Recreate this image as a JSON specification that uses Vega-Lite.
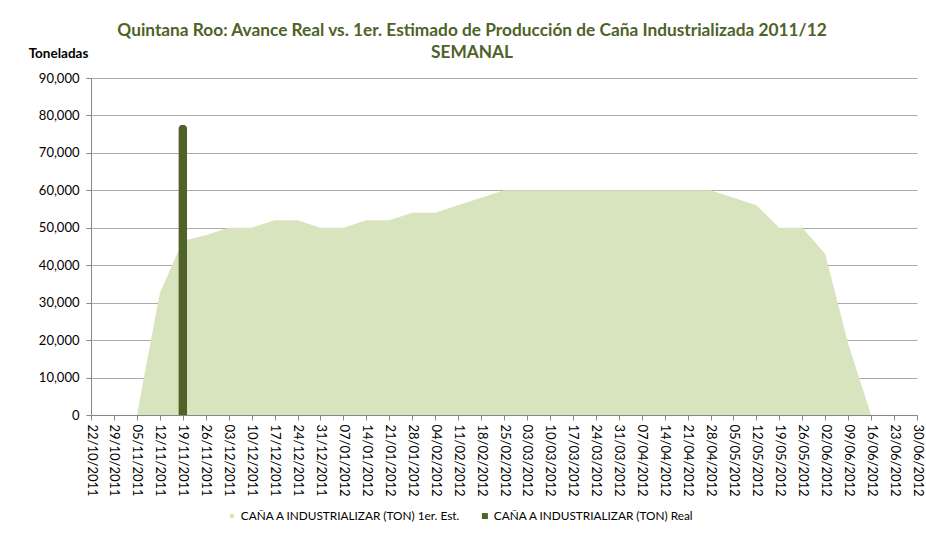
{
  "$schema": "https://vega.github.io/schema/vega-lite/v6.json",
  "width": 826,
  "height": 337,
  "autosize": {"type": "none"},
  "padding": {"left": 91, "top": 78, "right": 9, "bottom": 121},
  "background": "white",
  "title": {
    "text": ["Quintana Roo: Avance Real vs. 1er. Estimado de Producción de Caña Industrializada 2011/12", "SEMANAL"],
    "font": "Lato",
    "fontSize": 17.3,
    "fontWeight": "bold",
    "color": "#4F6228",
    "anchor": "middle",
    "frame": "group",
    "dx": -32,
    "offset": -15,
    "lineHeight": 22
  },
  "data": {
    "values": [
      {"fecha": "22/10/2011", "est": null, "real": null},
      {"fecha": "29/10/2011", "est": null, "real": null},
      {"fecha": "05/11/2011", "est": 0, "real": null},
      {"fecha": "12/11/2011", "est": 32500, "real": null},
      {"fecha": "19/11/2011", "est": 46500, "real": 77500},
      {"fecha": "26/11/2011", "est": 48000, "real": null},
      {"fecha": "03/12/2011", "est": 50000, "real": null},
      {"fecha": "10/12/2011", "est": 50000, "real": null},
      {"fecha": "17/12/2011", "est": 52000, "real": null},
      {"fecha": "24/12/2011", "est": 52000, "real": null},
      {"fecha": "31/12/2011", "est": 50000, "real": null},
      {"fecha": "07/01/2012", "est": 50000, "real": null},
      {"fecha": "14/01/2012", "est": 52000, "real": null},
      {"fecha": "21/01/2012", "est": 52000, "real": null},
      {"fecha": "28/01/2012", "est": 54000, "real": null},
      {"fecha": "04/02/2012", "est": 54000, "real": null},
      {"fecha": "11/02/2012", "est": 56000, "real": null},
      {"fecha": "18/02/2012", "est": 58000, "real": null},
      {"fecha": "25/02/2012", "est": 60000, "real": null},
      {"fecha": "03/03/2012", "est": 60000, "real": null},
      {"fecha": "10/03/2012", "est": 60000, "real": null},
      {"fecha": "17/03/2012", "est": 60000, "real": null},
      {"fecha": "24/03/2012", "est": 60000, "real": null},
      {"fecha": "31/03/2012", "est": 60000, "real": null},
      {"fecha": "07/04/2012", "est": 60000, "real": null},
      {"fecha": "14/04/2012", "est": 60000, "real": null},
      {"fecha": "21/04/2012", "est": 60000, "real": null},
      {"fecha": "28/04/2012", "est": 60000, "real": null},
      {"fecha": "05/05/2012", "est": 58000, "real": null},
      {"fecha": "12/05/2012", "est": 56000, "real": null},
      {"fecha": "19/05/2012", "est": 50000, "real": null},
      {"fecha": "26/05/2012", "est": 50000, "real": null},
      {"fecha": "02/06/2012", "est": 43000, "real": null},
      {"fecha": "09/06/2012", "est": 19000, "real": null},
      {"fecha": "16/06/2012", "est": 0, "real": null},
      {"fecha": "23/06/2012", "est": null, "real": null},
      {"fecha": "30/06/2012", "est": null, "real": null}
    ]
  },
  "encoding": {
    "x": {
      "field": "fecha",
      "type": "ordinal",
      "sort": null,
      "scale": {
        "type": "point",
        "padding": 0,
        "domain": ["22/10/2011","29/10/2011","05/11/2011","12/11/2011","19/11/2011","26/11/2011","03/12/2011","10/12/2011","17/12/2011","24/12/2011","31/12/2011","07/01/2012","14/01/2012","21/01/2012","28/01/2012","04/02/2012","11/02/2012","18/02/2012","25/02/2012","03/03/2012","10/03/2012","17/03/2012","24/03/2012","31/03/2012","07/04/2012","14/04/2012","21/04/2012","28/04/2012","05/05/2012","12/05/2012","19/05/2012","26/05/2012","02/06/2012","09/06/2012","16/06/2012","23/06/2012","30/06/2012"]
      },
      "axis": {
        "title": null,
        "labelAngle": 90,
        "labelAlign": "left",
        "labelBaseline": "middle",
        "labelFont": "Lato",
        "labelFontSize": 13,
        "labelColor": "#000000",
        "labelPadding": 4,
        "domainColor": "#868686",
        "tickColor": "#868686",
        "tickSize": 5,
        "grid": false,
        "labelOverlap": false
      }
    }
  },
  "layer": [
    {
      "transform": [{"filter": "datum.est != null"}],
      "mark": {"type": "area", "opacity": 1},
      "encoding": {
        "y": {
          "field": "est",
          "type": "quantitative",
          "scale": {"domain": [0, 90000], "nice": false},
          "axis": {
            "title": "Toneladas",
            "titleAngle": 0,
            "titleFont": "Lato",
            "titleFontSize": 13.5,
            "titleFontWeight": "bold",
            "titleColor": "#000000",
            "titleAlign": "center",
            "titleBaseline": "alphabetic",
            "titleX": -33,
            "titleY": -21,
            "values": [0,10000,20000,30000,40000,50000,60000,70000,80000,90000],
            "format": ",.0f",
            "labelOverlap": false,
            "labelFont": "Lato",
            "labelFontSize": 13,
            "labelColor": "#000000",
            "labelPadding": 7,
            "tickSize": 5,
            "tickColor": "#868686",
            "domainColor": "#868686",
            "grid": true,
            "gridColor": "#ABABAB",
            "gridWidth": 1
          }
        },
        "color": {
          "datum": "CAÑA A INDUSTRIALIZAR (TON) 1er. Est.",
          "type": "nominal",
          "scale": {
            "domain": ["CAÑA A INDUSTRIALIZAR (TON) 1er. Est.", "CAÑA A INDUSTRIALIZAR (TON) Real"],
            "range": ["#D7E4BD", "#4F6228"]
          },
          "legend": {
            "title": null,
            "orient": "none",
            "legendX": 135,
            "legendY": 432,
            "direction": "horizontal",
            "columns": 2,
            "columnPadding": 18,
            "symbolType": "square",
            "symbolSize": 144,
            "symbolOpacity": 1,
            "symbolStrokeWidth": 0,
            "labelFont": "Lato",
            "labelFontSize": 11.8,
            "labelLimit": 0,
            "labelColor": "#000000",
            "labelOffset": 3,
            "encode": {
              "symbols": {
                "update": {
                  "shape": {"value": "M-0.5,-0.5H0.5V0.5H-0.5Z"},
                  "size": {"signal": "datum.index == 1 ? 144 : 64"},
                  "fill": {"signal": "datum.index == 1 ? '#4F6228' : '#D7E4BD'"},
                  "opacity": {"value": 1},
                  "fillOpacity": {"value": 1},
                  "strokeWidth": {"value": 0}
                }
              }
            }
          }
        }
      }
    },
    {
      "transform": [{"filter": "datum.real != null"}],
      "mark": {"type": "bar", "size": 9, "cornerRadiusTopLeft": 4.5, "cornerRadiusTopRight": 4.5},
      "encoding": {
        "y": {
          "field": "real",
          "type": "quantitative",
          "axis": {
            "title": "Toneladas",
            "titleAngle": 0,
            "titleFont": "Lato",
            "titleFontSize": 13.5,
            "titleFontWeight": "bold",
            "titleColor": "#000000",
            "titleAlign": "center",
            "titleBaseline": "alphabetic",
            "titleX": -33,
            "titleY": -21,
            "values": [0,10000,20000,30000,40000,50000,60000,70000,80000,90000],
            "format": ",.0f",
            "labelOverlap": false,
            "labelFont": "Lato",
            "labelFontSize": 13,
            "labelColor": "#000000",
            "labelPadding": 7,
            "tickSize": 5,
            "tickColor": "#868686",
            "domainColor": "#868686",
            "grid": true,
            "gridColor": "#ABABAB",
            "gridWidth": 1
          }
        },
        "color": {"datum": "CAÑA A INDUSTRIALIZAR (TON) Real", "type": "nominal"}
      }
    }
  ],
  "config": {
    "view": {"stroke": null},
    "font": "Lato"
  }
}
